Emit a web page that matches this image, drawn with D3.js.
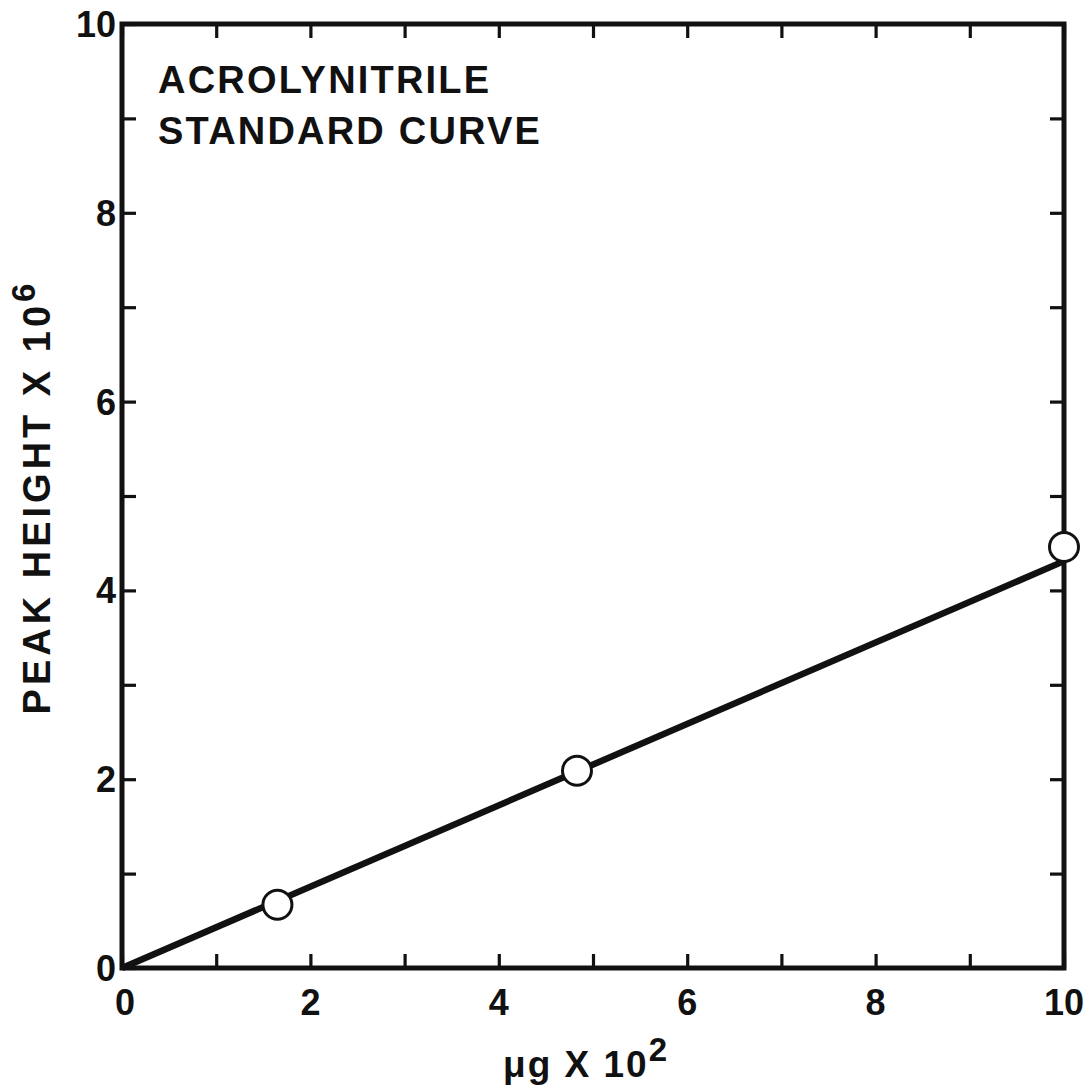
<!DOCTYPE html>
<html>
<head>
<meta charset="utf-8">
<script src="https://cdn.jsdelivr.net/npm/d3@7"></script>
<style>
  html, body { margin: 0; padding: 0; background: #fff; }
  svg { display: block; }
  text { font-family: "Liberation Sans", Arial, Helvetica, sans-serif; font-weight: bold; fill: #111; }
</style>
</head>
<body>
<svg id="chart" width="1090" height="1090"></svg>
<script>
// Standard-curve measurements (µg × 10², peak height × 10⁶)
const amounts = [1.65, 4.83, 10.0];
const peakHeights = [0.67, 2.09, 4.46];

// Calibration line drawn through the origin
const fitX = [0, 10];
const fitY = [0, 4.31];

// Axis ticks and labels
const tickValues = [0, 1, 2, 3, 4, 5, 6, 7, 8, 9, 10];
const labelValues = [0, 2, 4, 6, 8, 10];

const titleLines = ["ACROLYNITRILE", "STANDARD CURVE"];

const svg = d3.select("#chart");
const margin = { left: 122, right: 1090 - 1064, top: 24, bottom: 1090 - 968 };
const W = 1090 - margin.left - margin.right;
const H = 1090 - margin.top - margin.bottom;

const x = d3.scaleLinear().domain([0, 10]).range([margin.left, margin.left + W]);
const y = d3.scaleLinear().domain([0, 10]).range([margin.top + H, margin.top]);

const tickLen = 14;
const ink = "#111";

// Inward ticks on all four sides
function styleAxis(g) {
  g.select(".domain").remove();
  g.selectAll(".tick line").attr("stroke", ink).attr("stroke-width", 3.2);
  g.selectAll(".tick text").remove();
}
svg.append("g").attr("transform", `translate(0,${y(0)})`)
  .call(d3.axisBottom(x).tickValues(tickValues).tickSizeInner(-tickLen).tickSizeOuter(0)).call(styleAxis);
svg.append("g").attr("transform", `translate(0,${y(10)})`)
  .call(d3.axisTop(x).tickValues(tickValues).tickSizeInner(-tickLen).tickSizeOuter(0)).call(styleAxis);
svg.append("g").attr("transform", `translate(${x(0)},0)`)
  .call(d3.axisLeft(y).tickValues(tickValues).tickSizeInner(-tickLen).tickSizeOuter(0)).call(styleAxis);
svg.append("g").attr("transform", `translate(${x(10)},0)`)
  .call(d3.axisRight(y).tickValues(tickValues).tickSizeInner(-tickLen).tickSizeOuter(0)).call(styleAxis);

// Frame
svg.append("rect")
  .attr("x", x(0)).attr("y", y(10))
  .attr("width", x(10) - x(0)).attr("height", y(0) - y(10))
  .attr("fill", "none").attr("stroke", ink).attr("stroke-width", 5);

// Tick labels
svg.append("g").selectAll("text").data(labelValues).join("text")
  .attr("x", x(0) - 6).attr("y", d => y(d) + 13)
  .attr("text-anchor", "end").attr("font-size", 36)
  .text(d => d);
svg.append("g").selectAll("text").data(labelValues).join("text")
  .attr("x", d => x(d) + (d === 0 ? 3 : 0)).attr("y", 1015)
  .attr("text-anchor", "middle").attr("font-size", 36)
  .text(d => d);

// Axis titles
const xt = svg.append("text").attr("x", 503).attr("y", 1077)
  .attr("font-size", 37).attr("letter-spacing", 2);
xt.append("tspan").text("μg X 10");
xt.append("tspan").attr("dy", -16).attr("font-size", 33).text("2");

const yt = svg.append("text")
  .attr("transform", `translate(50,497) rotate(-90)`)
  .attr("text-anchor", "middle").attr("font-size", 38).attr("letter-spacing", 4);
yt.append("tspan").text("PEAK HEIGHT X 10");
yt.append("tspan").attr("dy", -15).attr("font-size", 33).text("6");

// Chart title
svg.append("g").selectAll("text").data(titleLines).join("text")
  .attr("x", 158).attr("y", (d, i) => 93 + i * 51)
  .attr("font-size", 38).attr("letter-spacing", 2.2)
  .text(d => d);

// Calibration line
const fitPts = fitX.map((v, i) => [v, fitY[i]]);
svg.append("path")
  .datum(fitPts)
  .attr("d", d3.line().x(d => x(d[0])).y(d => y(d[1])))
  .attr("fill", "none").attr("stroke", ink).attr("stroke-width", 6.5);

// Measured points
svg.append("g").selectAll("circle").data(amounts.map((a, i) => [a, peakHeights[i]])).join("circle")
  .attr("cx", d => x(d[0])).attr("cy", d => y(d[1])).attr("r", 14.5)
  .attr("fill", "#fff").attr("stroke", ink).attr("stroke-width", 3);
</script>
</body>
</html>
